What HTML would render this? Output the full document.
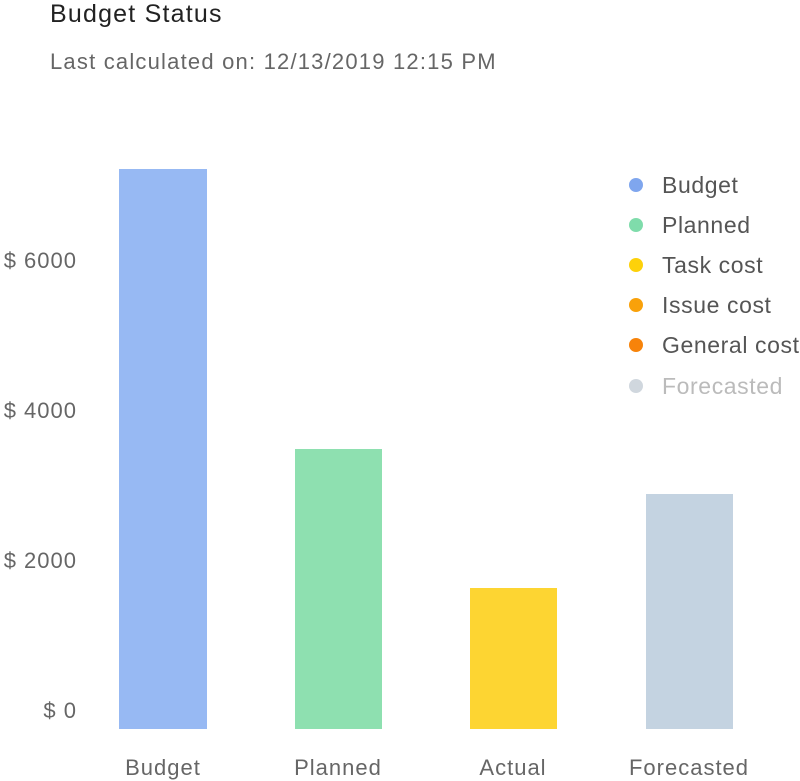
<!DOCTYPE html>
<html><head><style>
body{margin:0;background:#fff;width:800px;height:781px;overflow:hidden;font-family:"Liberation Sans",sans-serif;}
.a{position:absolute;white-space:nowrap;}
.t{color:#222;font-size:25px;letter-spacing:1.2px;}
.g{color:#666;font-size:22px;letter-spacing:1px;}
.bar{position:absolute;}
.dot{position:absolute;width:14px;height:14px;border-radius:50%;left:629px;}
.lg{position:absolute;left:662px;font-size:23px;color:#555;line-height:26px;letter-spacing:0.6px;}
</style></head><body>
<div class="a t" style="left:50px;top:0px;">Budget Status</div>
<div class="a g" style="left:50px;top:49px;letter-spacing:1.2px;">Last calculated on: 12/13/2019 12:15 PM</div>

<div class="a g" style="left:0;top:248px;width:77px;text-align:right;">$ 6000</div>
<div class="a g" style="left:0;top:398px;width:77px;text-align:right;">$ 4000</div>
<div class="a g" style="left:0;top:548px;width:77px;text-align:right;">$ 2000</div>
<div class="a g" style="left:0;top:698px;width:77px;text-align:right;">$ 0</div>

<div class="bar" style="left:119px;top:169px;width:88px;height:560px;background:#97b9f3;"></div>
<div class="bar" style="left:295px;top:449px;width:87px;height:280px;background:#8ee0b0;"></div>
<div class="bar" style="left:470px;top:588px;width:87px;height:141px;background:#fdd532;"></div>
<div class="bar" style="left:646px;top:494px;width:87px;height:235px;background:#c4d3e1;"></div>

<div class="a g" style="left:113px;top:755px;width:100px;text-align:center;">Budget</div>
<div class="a g" style="left:288px;top:755px;width:100px;text-align:center;">Planned</div>
<div class="a g" style="left:463px;top:755px;width:100px;text-align:center;">Actual</div>
<div class="a g" style="left:619px;top:755px;width:140px;text-align:center;">Forecasted</div>

<div class="dot" style="top:178px;background:#7fa6ee;"></div><div class="lg" style="top:172px;">Budget</div>
<div class="dot" style="top:218px;background:#7fdcab;"></div><div class="lg" style="top:212px;">Planned</div>
<div class="dot" style="top:258px;background:#fdd10a;"></div><div class="lg" style="top:252px;">Task cost</div>
<div class="dot" style="top:298px;background:#f9a10a;"></div><div class="lg" style="top:292px;">Issue cost</div>
<div class="dot" style="top:338px;background:#f7830a;"></div><div class="lg" style="top:332px;">General cost</div>
<div class="dot" style="top:379px;background:#d0d7de;"></div><div class="lg" style="top:373px;color:#bbb;">Forecasted</div>
</body></html>
